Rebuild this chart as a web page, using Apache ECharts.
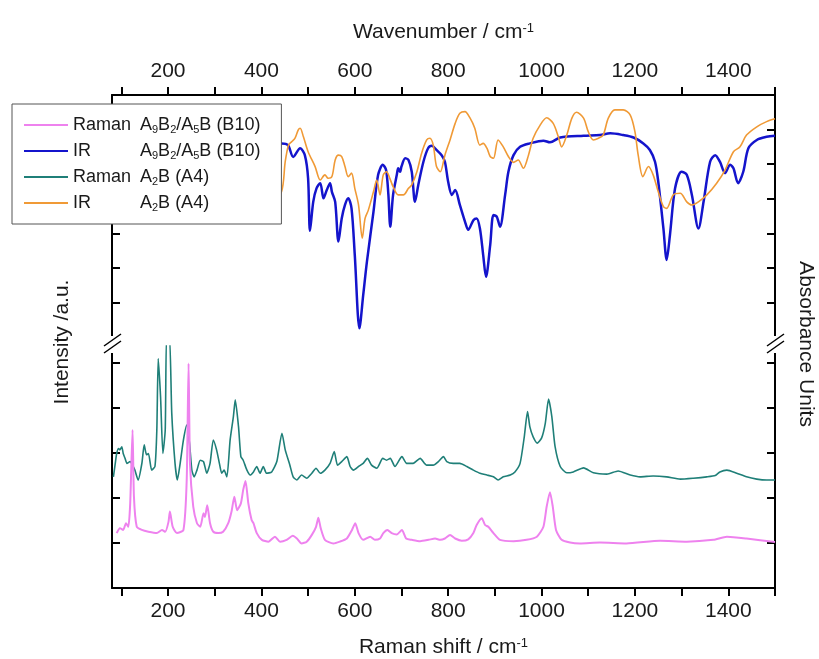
<!DOCTYPE html>
<html>
<head>
<meta charset="utf-8">
<script src="https://cdn.jsdelivr.net/npm/echarts@6/dist/echarts.min.js"></script>
<style>
html, body { margin: 0; padding: 0; background: #fff; }
#chart { width: 819px; height: 659px; }
</style>
</head>
<body>
<div id="chart"></div>
<script>
// tick / label positions (cm-1)
var xTicks = [100, 200, 300, 400, 500, 600, 700, 800, 900, 1000, 1100, 1200, 1300, 1400, 1500];
var xLabels = [200, 400, 600, 800, 1000, 1200, 1400];
var irTicks = [1, 2, 3, 4, 5, 6];
var ramanTicks = [1, 2, 3, 4, 5];

// IR  A9B2/A5B (B10) - wavenumber / absorbance (arb.)
var irB10X = [401,443,457,468,483,493,500,504,511,518,526,533,540,547,551,558,565,572,579,586,593,600,610,618,626,640,650,660,667,672,676,682,690,693,697,700,708,715,722,729,736,747,757,765,775,786,793,800,808,815,825,836,843,854,861,868,875,881,890,897,904,911,922,929,940,954,975,1004,1018,1040,1090,1125,1147,1175,1197,1218,1232,1243,1250,1261,1268,1275,1286,1300,1311,1322,1336,1347,1361,1372,1382,1393,1404,1411,1421,1432,1443,1461,1482,1500];
var irB10Y = [5.47,5.60,5.55,5.21,5.46,5.26,4.59,3.07,3.91,4.30,4.45,4.01,4.25,4.45,4.20,3.91,2.76,3.43,3.82,4.01,3.72,2.37,0.25,1.21,2.18,3.62,4.69,4.98,4.83,4.11,3.19,4.11,4.69,4.88,4.78,4.93,5.17,5.12,4.78,3.91,4.40,5.07,5.46,5.53,5.41,5.26,5.07,4.49,4.11,4.25,3.82,3.34,3.10,3.38,3.43,3.14,2.37,1.74,2.66,3.53,3.48,3.19,4.11,4.78,5.26,5.50,5.60,5.68,5.63,5.77,5.82,5.84,5.89,5.84,5.77,5.60,5.41,5.07,4.49,3.14,2.23,2.95,4.30,4.78,4.69,4.11,3.14,3.91,5.07,5.26,5.07,4.74,4.98,4.88,4.45,4.78,5.46,5.70,5.79,5.82];

// IR  A2B (A4)
var irA4X = [420,443,451,458,465,472,479,483,490,500,515,526,536,543,551,558,565,572,579,586,593,600,608,616,622,629,640,647,654,661,668,675,682,693,704,715,722,733,743,754,761,768,775,783,793,804,815,825,836,847,857,868,875,883,890,897,907,918,929,940,950,961,972,982,997,1011,1025,1036,1043,1054,1065,1075,1090,1100,1111,1122,1132,1143,1157,1175,1190,1200,1207,1217,1229,1239,1250,1261,1268,1282,1297,1311,1322,1336,1354,1375,1393,1411,1425,1439,1461,1482,1500];
var irA4Y = [3.82,4.20,5.07,5.55,5.65,5.75,5.99,6.04,5.79,5.36,4.93,4.54,4.69,4.59,4.64,5.12,5.26,5.22,4.93,4.64,4.74,4.30,3.82,2.86,3.43,3.67,4.20,4.54,4.11,4.69,4.78,4.59,4.35,4.11,4.11,4.30,4.40,4.78,5.31,5.70,5.75,5.55,4.93,4.78,5.26,5.70,6.18,6.47,6.52,6.33,6.04,5.55,5.60,5.46,5.22,5.17,5.70,5.50,5.22,5.05,5.12,4.88,5.26,5.75,6.13,6.34,6.18,5.79,5.50,5.84,6.33,6.50,6.33,5.94,5.70,5.75,5.84,6.33,6.57,6.57,6.42,5.94,5.26,4.64,4.93,4.69,4.20,3.77,3.72,4.11,4.16,3.91,3.82,3.91,4.11,4.45,4.83,5.36,5.50,5.84,6.08,6.23,6.31];

// Raman  A2B (A4) - Raman shift / intensity (arb.)
var ramanA4X = [83,87,90,94,97,101,104,108,112,119,122,129,136,144,149,154,158,165,172,176,179,184,189,194,197,203,208,215,220,226,233,240,246,251,256,262,269,276,283,290,297,304,310,315,320,326,333,340,344,351,356,361,369,376,383,390,397,404,411,422,433,444,451,461,468,476,486,497,508,517,526,536,547,556,563,572,583,590,597,608,618,627,636,647,660,668,676,686,701,711,725,740,754,768,779,790,797,811,825,840,854,868,883,897,907,918,933,943,954,963,970,975,982,991,1000,1008,1015,1022,1029,1040,1054,1068,1090,1111,1140,1164,1190,1211,1239,1268,1297,1325,1354,1372,1382,1397,1418,1439,1461,1482,1500];
var ramanA4Y = [2.47,2.77,2.99,3.10,3.07,3.14,2.99,2.88,2.77,2.81,2.77,2.62,2.40,2.77,3.18,2.96,2.99,2.62,2.70,3.51,5.10,4.25,2.99,3.51,5.60,5.60,3.88,2.77,2.40,2.77,3.29,3.62,3.22,2.62,2.47,2.62,2.84,2.81,2.55,2.77,3.29,3.07,2.77,2.55,2.62,2.47,3.29,3.81,4.18,3.58,2.92,2.84,2.62,2.51,2.58,2.70,2.55,2.70,2.55,2.58,2.81,3.44,3.07,2.73,2.47,2.40,2.51,2.44,2.55,2.66,2.55,2.62,2.77,3.03,2.73,2.81,2.92,2.70,2.62,2.70,2.77,2.88,2.73,2.66,2.88,2.84,2.88,2.70,2.92,2.77,2.77,2.88,2.73,2.73,2.81,2.92,2.81,2.77,2.77,2.70,2.62,2.55,2.51,2.47,2.40,2.47,2.51,2.58,2.77,3.36,3.92,3.58,3.36,3.22,3.33,3.66,4.20,3.81,3.14,2.70,2.56,2.58,2.67,2.56,2.53,2.60,2.51,2.47,2.49,2.47,2.42,2.44,2.47,2.50,2.58,2.62,2.55,2.47,2.42,2.40,2.40];

// Raman  A9B2/A5B (B10)
var ramanB10X = [90,97,104,110,115,119,124,127,133,144,158,176,187,194,201,204,210,219,233,240,244,247,254,262,269,276,279,284,290,297,308,318,329,336,342,348,356,361,366,372,379,383,390,401,415,429,440,454,467,476,486,497,508,517,522,527,536,554,568,583,594,601,608,618,633,643,654,661,670,679,690,701,710,722,740,758,772,783,793,804,815,829,843,854,861,872,879,886,897,911,940,968,990,1004,1011,1018,1024,1031,1043,1061,1082,1125,1182,1254,1311,1368,1397,1439,1500];
var ramanB10Y = [1.22,1.33,1.29,1.44,1.36,1.88,3.51,2.03,1.36,1.29,1.25,1.22,1.29,1.25,1.47,1.70,1.36,1.22,1.29,2.40,4.99,2.77,1.81,1.44,1.36,1.66,1.58,1.84,1.44,1.25,1.22,1.25,1.44,1.70,2.03,1.73,1.88,2.18,2.38,1.88,1.51,1.44,1.22,1.07,1.03,1.14,1.03,1.07,1.16,1.10,0.99,1.03,1.18,1.36,1.56,1.33,1.07,0.99,1.03,1.10,1.29,1.44,1.22,1.07,1.14,1.07,1.10,1.22,1.29,1.22,1.19,1.29,1.10,1.07,1.04,1.07,1.10,1.07,1.10,1.18,1.10,1.05,1.08,1.22,1.40,1.55,1.40,1.36,1.22,1.07,1.04,1.07,1.14,1.36,1.81,2.13,1.81,1.29,1.07,1.01,0.99,1.01,0.99,1.05,1.03,1.07,1.14,1.10,1.02];

var legendNames = ['Raman B10', 'IR B10', 'Raman A4', 'IR A4'];
var legendLabels = {
    'Raman B10': '{k|Raman}{v|A}{s|9}{v|B}{s|2}{v|/A}{s|5}{v|B (B10)}',
    'IR B10': '{k|IR}{v|A}{s|9}{v|B}{s|2}{v|/A}{s|5}{v|B (B10)}',
    'Raman A4': '{k|Raman}{v|A}{s|2}{v|B (A4)}',
    'IR A4': '{k|IR}{v|A}{s|2}{v|B (A4)}'
};

var font = 'Liberation Sans, Arial, sans-serif';
var ink = '#1a1a1a';

function pairs(xs, ys) {
    return xs.map(function (x, i) { return [x, ys[i]]; });
}

function xAxisOpt(grid, pos, title, gap) {
    return {
        gridIndex: grid, type: 'value', position: pos, min: 80, max: 1500,
        name: title, nameLocation: 'middle', nameGap: gap,
        nameTextStyle: { fontFamily: font, fontSize: 21, color: ink,
            rich: { sup: { fontFamily: font, fontSize: 13, color: ink, verticalAlign: 'top' } } },
        axisLine: { onZero: false, lineStyle: { color: '#000', width: 2 } },
        axisTick: { inside: false, length: 8, lineStyle: { color: '#000', width: 2 }, customValues: xTicks },
        axisLabel: { customValues: xLabels, fontFamily: font, fontSize: 21, color: ink,
            margin: pos === 'top' ? 13 : 13,
            formatter: function (v) { return String(v); } },
        splitLine: { show: false }
    };
}

function yAxisOpt(grid, pos, max, ticks) {
    return {
        gridIndex: grid, type: 'value', position: pos, min: 0, max: max,
        axisLine: { show: true, onZero: false, lineStyle: { color: '#000', width: 2 } },
        axisTick: { show: true, inside: true, length: 8, lineStyle: { color: '#000', width: 2 }, customValues: ticks },
        axisLabel: { show: false },
        splitLine: { show: false }
    };
}

var myChart = echarts.init(document.getElementById('chart'));

var option = {
    animation: false,
    backgroundColor: '#fff',
    grid: [
        { left: 112, right: 44, top: 95, height: 242 },   // IR part
        { left: 112, right: 44, top: 346, height: 242 }   // Raman part
    ],
    xAxis: [
        xAxisOpt(0, 'top', 'Wavenumber / cm{sup|-1}', 52),
        xAxisOpt(1, 'bottom', 'Raman shift / cm{sup|-1}', 49)
    ],
    yAxis: [
        yAxisOpt(0, 'left', 7, irTicks),
        yAxisOpt(0, 'right', 7, irTicks),
        yAxisOpt(1, 'left', 5.378, ramanTicks),
        yAxisOpt(1, 'right', 5.378, ramanTicks)
    ],
    legend: {
        orient: 'vertical', left: 12, top: 104,
        padding: [11, 21, 11, 11],
        itemWidth: 44, itemHeight: 14, itemGap: 6,
        selectedMode: false,
        itemStyle: { opacity: 0 },
        backgroundColor: '#fff', borderColor: '#555', borderWidth: 1, borderRadius: 0,
        data: legendNames,
        formatter: function (name) { return legendLabels[name]; },
        textStyle: {
            fontFamily: font, fontSize: 18, color: ink, lineHeight: 20,
            rich: {
                k: { fontFamily: font, fontSize: 18, color: ink, width: 67, lineHeight: 20 },
                v: { fontFamily: font, fontSize: 18, color: ink, lineHeight: 20 },
                s: { fontFamily: font, fontSize: 11, color: ink, lineHeight: 12, verticalAlign: 'bottom' }
            }
        }
    },
    series: [
        { name: 'Raman A4', type: 'line', xAxisIndex: 1, yAxisIndex: 2, symbol: 'none', smooth: 0.2,
          data: pairs(ramanA4X, ramanA4Y), color: '#1f7f78', lineStyle: { width: 1.6 } },
        { name: 'Raman B10', type: 'line', xAxisIndex: 1, yAxisIndex: 2, symbol: 'none', smooth: 0.2,
          data: pairs(ramanB10X, ramanB10Y), color: '#ee82ee', lineStyle: { width: 2 } },
        { name: 'IR B10', type: 'line', xAxisIndex: 0, yAxisIndex: 0, symbol: 'none', smooth: 0.3,
          data: pairs(irB10X, irB10Y), color: '#1414cc', lineStyle: { width: 2.5 } },
        { name: 'IR A4', type: 'line', xAxisIndex: 0, yAxisIndex: 0, symbol: 'none', smooth: 0.3,
          data: pairs(irA4X, irA4Y), color: '#f09a36', lineStyle: { width: 1.6 } }
    ],
    graphic: [
        // axis break marks
        { type: 'rect', z: 100, shape: { x: 105, y: 336, width: 14, height: 17 }, style: { fill: '#fff' } },
        { type: 'rect', z: 100, shape: { x: 768, y: 336, width: 14, height: 17 }, style: { fill: '#fff' } },
        { type: 'line', z: 101, shape: { x1: 104, y1: 346, x2: 121, y2: 334 }, style: { stroke: '#000', lineWidth: 1.5 } },
        { type: 'line', z: 101, shape: { x1: 104, y1: 353, x2: 121, y2: 341 }, style: { stroke: '#000', lineWidth: 1.5 } },
        { type: 'line', z: 101, shape: { x1: 767, y1: 346, x2: 784, y2: 334 }, style: { stroke: '#000', lineWidth: 1.5 } },
        { type: 'line', z: 101, shape: { x1: 767, y1: 353, x2: 784, y2: 341 }, style: { stroke: '#000', lineWidth: 1.5 } },
        // side titles
        { type: 'text', z: 100, x: 62, y: 342, rotation: Math.PI / 2,
          style: { text: 'Intensity /a.u.', fontFamily: font, fontSize: 21, fill: ink, align: 'center', verticalAlign: 'middle' } },
        { type: 'text', z: 100, x: 806, y: 344, rotation: -Math.PI / 2,
          style: { text: 'Absorbance Units', fontFamily: font, fontSize: 21, fill: ink, align: 'center', verticalAlign: 'middle' } }
    ]
};

myChart.setOption(option);
</script>
</body>
</html>
